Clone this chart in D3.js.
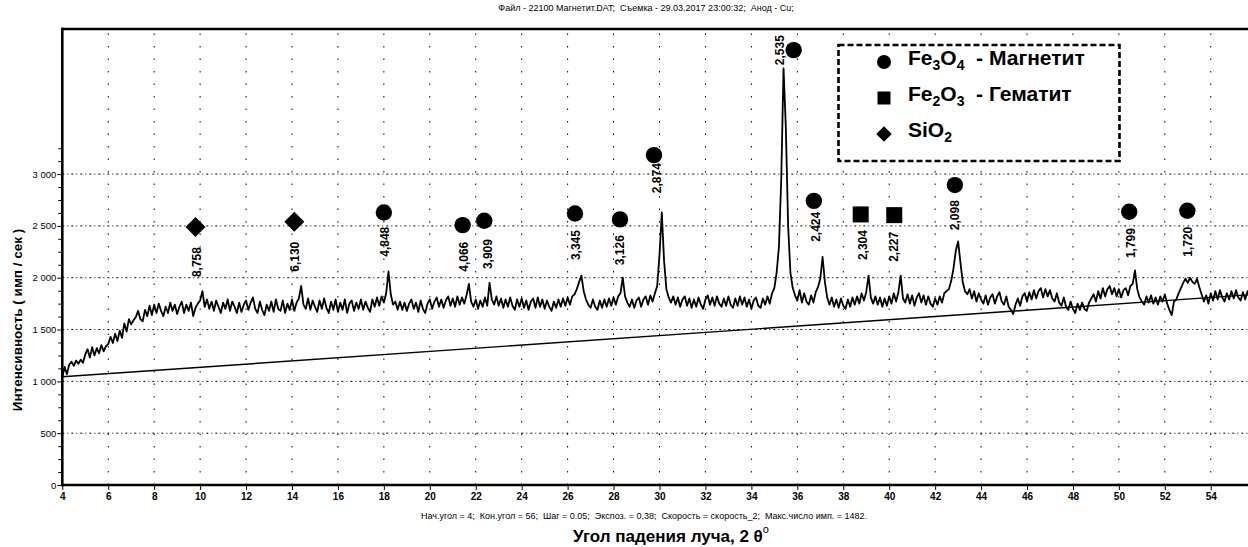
<!DOCTYPE html>
<html><head><meta charset="utf-8">
<script src="https://cdn.jsdelivr.net/npm/d3@7"></script>
<style>body{margin:0;background:#fff}svg{display:block;font-family:"Liberation Sans",Arial,sans-serif}</style>
</head><body><svg id="c" width="1248" height="547"></svg>
<script>
// ---------- DATA ----------
const scanStart = 4, scanStep = 0.1;
const intensity = [
1040,1140,1070,1160,1190,1150,1200,1170,1210,1180,
1260,1310,1230,1330,1250,1320,1270,1350,1290,1340,
1360,1430,1370,1460,1390,1490,1420,1560,1480,1600,
1550,1590,1620,1680,1600,1580,1690,1630,1730,1640,
1740,1660,1750,1680,1630,1720,1660,1760,1680,1740,
1650,1720,1770,1660,1740,1680,1760,1630,1710,1750,
1780,1870,1720,1790,1700,1770,1680,1780,1720,1660,
1760,1700,1790,1680,1770,1720,1660,1760,1670,1740,
1780,1690,1760,1810,1700,1660,1770,1690,1640,1740,
1680,1770,1670,1790,1700,1680,1780,1660,1750,1690,
1790,1680,1760,1800,1920,1740,1700,1800,1690,1780,
1720,1670,1780,1700,1800,1710,1660,1770,1690,1790,
1670,1760,1690,1790,1660,1750,1780,1680,1760,1700,
1790,1690,1770,1710,1670,1790,1720,1810,1730,1820,
1760,1850,2060,1840,1740,1770,1690,1770,1690,1760,
1680,1750,1790,1700,1760,1670,1780,1700,1660,1750,
1790,1700,1770,1810,1720,1790,1710,1780,1820,1730,
1800,1720,1820,1740,1810,1750,1830,1940,1770,1720,
1790,1700,1780,1720,1810,1730,1950,1790,1740,1820,
1730,1800,1710,1790,1720,1810,1730,1690,1790,1720,
1800,1710,1780,1690,1770,1800,1710,1810,1720,1790,
1700,1780,1720,1680,1770,1710,1790,1720,1800,1730,
1810,1740,1820,1840,1890,1960,2020,1870,1790,1740,
1710,1790,1720,1690,1780,1710,1790,1720,1800,1730,
1810,1740,1820,1850,2000,1820,1760,1720,1790,1710,
1780,1810,1720,1790,1820,1740,1830,1770,1850,1920,
2220,2630,2160,1890,1810,1760,1820,1740,1810,1720,
1790,1820,1730,1800,1710,1790,1720,1810,1740,1700,
1790,1830,1740,1810,1730,1820,1750,1720,1800,1730,
1820,1740,1710,1800,1730,1820,1740,1810,1720,1790,
1700,1780,1810,1730,1710,1800,1740,1820,1750,1850,
1900,2050,2300,2950,4020,3450,2500,2050,1900,1830,
1780,1880,1760,1850,1770,1740,1830,1760,1860,1910,
1990,2200,1960,1810,1740,1810,1720,1790,1710,1800,
1730,1700,1790,1720,1810,1740,1820,1750,1850,1780,
1860,2020,1810,1750,1820,1740,1810,1720,1800,1730,
1820,1750,1850,1770,1860,2020,1800,1760,1840,1750,
1830,1730,1810,1850,1760,1830,1740,1820,1750,1720,
1800,1740,1820,1760,1850,1870,1890,1970,2090,2260,
2350,2150,1960,1870,1840,1890,1800,1870,1770,1850,
1790,1750,1830,1740,1810,1840,1750,1820,1860,1770,
1740,1820,1720,1690,1650,1740,1800,1730,1820,1850,
1770,1860,1790,1880,1800,1870,1900,1810,1890,1820,
1880,1800,1770,1850,1760,1730,1810,1720,1690,1770,
1700,1660,1750,1690,1760,1700,1680,1760,1800,1840,
1770,1870,1800,1900,1820,1890,1920,1840,1900,1820,
1890,1810,1880,1900,1830,1920,1940,2070,1890,1810,
1770,1740,1820,1760,1830,1750,1810,1740,1820,1770,
1840,1750,1690,1640,1770,1790,1850,1900,1950,1990,
1950,2000,1960,1940,1990,1910,1840,1770,1830,1750,
1850,1780,1870,1790,1880,1810,1770,1850,1790,1870,
1800,1880,1810,1780,1860,1790,1870,1810,1880,1820,
1850
];
const backgroundAngle = [4, 56];
const backgroundIntensity = [1044, 1840];

const xTickValues = [4,6,8,10,12,14,16,18,20,22,24,26,28,30,32,34,36,38,40,42,44,46,48,50,52,54];
const yTickValues = [0,500,1000,1500,2000,2500,3000];

const peakPhase = ["SiO2","SiO2","Fe3O4","Fe3O4","Fe3O4","Fe3O4","Fe3O4","Fe3O4","Fe3O4","Fe3O4","Fe2O3","Fe2O3","Fe3O4","Fe3O4","Fe3O4"];
const peakMarkerAngle = [9.8,14.1,18.0,21.43,22.37,26.32,28.28,29.76,35.84,36.72,38.76,40.22,42.86,50.45,52.98];
const peakMarkerIntensity = [2490,2540,2630,2508,2550,2620,2563,3183,4196,2742,2611,2604,2894,2636,2646];
const peakLabel = ["8,758","6,130","4,848","4,066","3,909","3,345","3,126","2,874","2,535","2,424","2,304","2,227","2,098","1,799","1,720"];
const peakLabelAngle = [9.86,14.1,18.03,21.49,22.5,26.36,28.28,29.88,35.25,36.81,38.84,40.21,42.84,50.5,52.98];
const peakLabelTop = [2296,2347,2492,2347,2373,2460,2411,3106,4341,2636,2460,2443,2749,2479,2492];

const legendPhase = ["Fe3O4","Fe2O3","SiO2"];
const legendName = ["- Магнетит","- Гематит",""];

// ---------- DRAW ----------
const svg = d3.select("#c");
const x = d3.scaleLinear().domain([4, 56]).range([62.3, 1256.7]);
const y = d3.scaleLinear().domain([0, 4400]).range([485, 29]);
const ru = d3.formatLocale({decimal:",", thousands:"\u00a0", grouping:[3], currency:["",""]});
const fmt = ru.format(",");

// grid
const grid = svg.append("g");
grid.selectAll("line.h").data(yTickValues.filter(d=>d>0)).join("line")
  .attr("x1", x(4)).attr("x2", 1248).attr("y1", d=>y(d)).attr("y2", d=>y(d))
  .attr("stroke","#000").attr("stroke-width",1).attr("stroke-dasharray","2,3,1,3");
grid.selectAll("line.v").data(xTickValues.filter(d=>d>4)).join("line")
  .attr("x1", d=>x(d)).attr("x2", d=>x(d)).attr("y1", y(0)).attr("y2", y(4400))
  .attr("stroke","#000").attr("stroke-width",1).attr("stroke-dasharray","1.5,11");

// background line
svg.append("path")
  .datum(backgroundAngle.map((a,i)=>[a, backgroundIntensity[i]]))
  .attr("d", d3.line().x(d=>x(d[0])).y(d=>y(d[1])))
  .attr("fill","none").attr("stroke","#000").attr("stroke-width",1.4);

// scan
const scan = intensity.map((v,i)=>[scanStart + i*scanStep, v]);
svg.append("path").datum(scan)
  .attr("d", d3.line().x(d=>x(d[0])).y(d=>y(d[1])))
  .attr("fill","none").attr("stroke","#000").attr("stroke-width",1.8).attr("stroke-linejoin","round");

// axes
const yAxis = svg.append("g").attr("transform",`translate(${x(4)},0)`)
  .call(d3.axisLeft(y).tickValues(yTickValues).tickFormat(fmt).tickSize(5).tickPadding(1));
const minor = d3.range(0, 3251, 125).filter(d=>d%500!==0);
svg.append("g").attr("transform",`translate(${x(4)},0)`)
  .call(d3.axisLeft(y).tickValues(minor).tickFormat("").tickSize(4))
  .call(g=>g.select(".domain").remove());
yAxis.select(".domain").remove();
yAxis.selectAll("text").attr("font-size",9.5).attr("font-family","Liberation Sans, Arial, sans-serif").attr("fill","#000");

const xAxis = svg.append("g").attr("transform",`translate(0,${y(0)})`)
  .call(d3.axisBottom(x).tickValues(xTickValues).tickFormat(d=>d).tickSize(5).tickPadding(3));
xAxis.select(".domain").remove();
xAxis.selectAll("text").attr("font-size",10).attr("font-weight","bold").attr("font-family","Liberation Sans, Arial, sans-serif").attr("fill","#000");

// frame
svg.append("line").attr("x1",x(4)).attr("x2",x(4)).attr("y1",y(4400)-1.2).attr("y2",y(0)+1.2).attr("stroke","#000").attr("stroke-width",2.6);
svg.append("line").attr("x1",x(4)-1.2).attr("x2",1248).attr("y1",y(0)).attr("y2",y(0)).attr("stroke","#000").attr("stroke-width",2.6);
svg.append("line").attr("x1",x(4)-1.2).attr("x2",1248).attr("y1",y(4400)).attr("y2",y(4400)).attr("stroke","#000").attr("stroke-width",2.4);

// markers
function drawSymbol(g, type, cx, cy, s){
  if(type==="Fe3O4") g.append("circle").attr("cx",cx).attr("cy",cy).attr("r",s);
  else if(type==="Fe2O3") g.append("rect").attr("x",cx-s).attr("y",cy-s).attr("width",2*s).attr("height",2*s);
  else g.append("path").attr("d",`M${cx},${cy-s*1.25}L${cx+s*1.25},${cy}L${cx},${cy+s*1.25}L${cx-s*1.25},${cy}Z`);
}
const mk = svg.append("g").attr("fill","#000");
peakPhase.forEach((p,i)=>{
  const s = p==="Fe3O4" ? 8.2 : 8;
  drawSymbol(mk, p, x(peakMarkerAngle[i]), y(peakMarkerIntensity[i]), s);
});
svg.append("g").selectAll("text").data(peakLabel).join("text")
  .attr("transform",(d,i)=>`translate(${x(peakLabelAngle[i])},${y(peakLabelTop[i])}) rotate(-90)`)
  .attr("text-anchor","end").attr("dy","0.36em")
  .attr("font-size",12).attr("font-weight","bold").attr("fill","#000").text(d=>d);

// legend
const lg = svg.append("g");
lg.append("rect").attr("x",838.5).attr("y",45).attr("width",281).attr("height",116)
  .attr("fill","#fff").attr("stroke","#000").attr("stroke-width",2.6).attr("stroke-dasharray","6,3");
const rowY = [62, 98, 134];
const lgSym = lg.append("g").attr("fill","#000");
legendPhase.forEach((p,i)=>{
  drawSymbol(lgSym, p, 884, rowY[i], p==="Fe3O4"?7:(p==="Fe2O3"?6.5:6.2));
  const t = lg.append("text").attr("x",908).attr("y",rowY[i]+7.5).attr("font-size",21).attr("font-weight","bold").attr("fill","#000");
  const m = p.match(/[A-Za-z]+|\d+/g);
  m.forEach(part=>{
    if(/\d/.test(part)) t.append("tspan").attr("font-size",14).attr("dy",5).text(part);
    else t.append("tspan").attr("dy", t.selectAll("tspan").size() ? -5 : 0).text(part);
  });
  if(legendName[i]) t.append("tspan").attr("dy",-5).text("  " + legendName[i]).attr("xml:space","preserve");
});

// texts
svg.append("text").attr("x",646).attr("y",11).attr("text-anchor","middle").attr("font-size",9)
  .text("Файл - 22100 Магнетит.DAT;  Съемка - 29.03.2017 23:00:32;  Анод - Cu;").attr("xml:space","preserve");
svg.append("text").attr("x",644).attr("y",519).attr("text-anchor","middle").attr("font-size",9)
  .attr("xml:space","preserve")
  .text("Нач.угол = 4;  Кон.угол = 56;  Шаг = 0.05;  Экспоз. = 0,38;  Скорость = скорость_2;  Макс.число имп. = 1482.");
const xt = svg.append("text").attr("x",671).attr("y",542).attr("text-anchor","middle").attr("font-size",17).attr("font-weight","bold");
xt.append("tspan").text("Угол падения луча, 2 θ");
xt.append("tspan").attr("font-size",11).attr("font-weight","normal").attr("dy",-9).text("o");
svg.append("text").attr("transform","translate(22,320) rotate(-90)").attr("text-anchor","middle")
  .attr("font-size",13.5).attr("font-weight","bold").text("Интенсивность ( имп / сек )");
</script></body></html>
